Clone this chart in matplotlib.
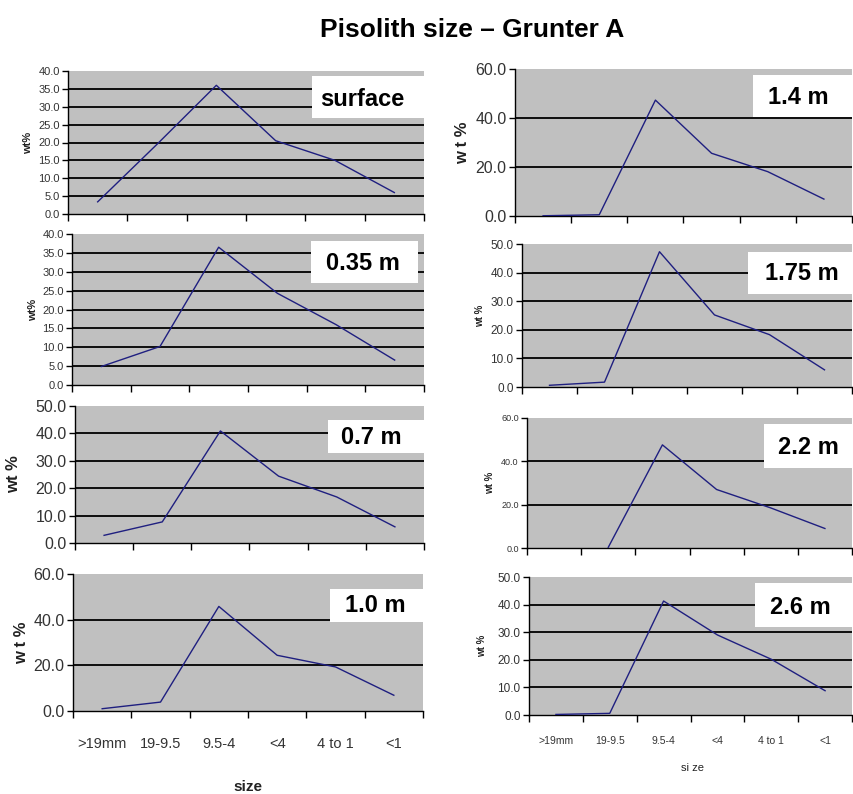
import numpy as np
import matplotlib
matplotlib.use("Agg")
import matplotlib.pyplot as plt
from matplotlib import font_manager
from matplotlib.patches import Rectangle

# ── dados (wt % por classe de tamanho) ────────────────────────────────────────
CATS = [">19mm", "19-9.5", "9.5-4", "<4", "4 to 1", "<1"]
CATS_DIR = [">19mm", "19-9.5", "9.5-4", "<4", "4 to 1", "<1"]
DEPTHS = ["surface", "0.35 m", "0.7 m", "1.0 m", "1.4 m", "1.75 m", "2.2 m", "2.6 m"]

SURFACE = [3.4, 19.5, 36.0, 20.5, 15.0, 6.0]
D035 = [4.9, 10.2, 36.5, 24.3, 16.0, 6.6]
D07 = [2.8, 7.7, 40.9, 24.4, 16.8, 5.9]
D10 = [1.0, 3.9, 45.8, 24.4, 19.3, 6.9]
D14 = [0.1, 0.5, 47.3, 25.6, 18.1, 6.9]
D175 = [0.6, 1.7, 47.3, 25.2, 18.3, 6.0]
D22 = [np.nan, 0.3, 47.6, 27.0, 18.5, 9.0]
D26 = [0.2, 0.6, 41.3, 29.0, 20.2, 8.8]

YMAX = [40, 40, 50, 60, 60, 50, 60, 50]
YSTEP = [5, 5, 10, 20, 20, 10, 20, 10]

# ── estilo ────────────────────────────────────────────────────────────────────
W, H = 854, 794
_nomes = {f.name for f in font_manager.fontManager.ttflist}
NARROW = "Liberation Sans Narrow" if "Liberation Sans Narrow" in _nomes else "Liberation Sans"
FONT = [NARROW, "Liberation Sans", "DejaVu Sans"]
BOLD = ["Liberation Sans", "DejaVu Sans"]
plt.rcParams["font.family"] = FONT

COR_FUNDO = "#c0c0c0"
COR_LINHA = "#1f1f80"
COR_TICK = "#333333"

# posição de cada painel em pixels: (esq, topo, dir, base)
PAINEIS = [
    (68, 71, 424, 214), (72, 234, 424, 385), (75, 406, 424, 543), (73, 574, 423, 711),
    (515, 69, 852, 216), (522, 244, 852, 387), (527, 418, 852, 548), (529, 577, 852, 715),
]
# caixa branca do rótulo: (esq, topo, dir, base) e centro do texto
CAIXAS = [
    (312, 76, 424, 118), (311, 241, 418, 283), (328, 420, 424, 453), (330, 589, 423, 622),
    (753, 75, 852, 117), (748, 252, 852, 294), (764, 424, 852, 468), (755, 583, 852, 627),
]
CENTROS = [(362, 100), (363, 263), (371, 438), (375, 606),
           (798, 97), (802, 274), (808, 447), (800, 607)]
YTICK_FS = [8, 8, 11.5, 11.5, 11.5, 8.5, 6.5, 8.5]
YLABELS = ["wt%", "wt%", "wt %", "w t %", "w t %", "wt %", "wt %", "wt %"]
YLABEL_X = [28, 33, 14, 22, 463, 480, 490, 482]
YLABEL_FS = [8, 8, 12, 12, 12, 7, 7, 7]


def _ax_px(fig, l, t, r, b):
    return fig.add_axes([l / W, 1 - b / H, (r - l) / W, (b - t) / H])


def _painel(fig, i, valores):
    l, t, r, b = PAINEIS[i]
    ax = _ax_px(fig, l, t, r, b)
    ax.set_facecolor(COR_FUNDO)
    x = np.arange(1, len(valores) + 1)
    ax.plot(x, valores, color=COR_LINHA, lw=1.0, zorder=3)
    ax.set_xlim(0.5, len(valores) + 0.5)
    ax.set_ylim(0, YMAX[i])
    yt = np.arange(0, YMAX[i] + 0.1, YSTEP[i])
    ax.set_yticks(yt)
    ax.set_yticklabels([f"{v:.1f}" for v in yt], fontsize=YTICK_FS[i], color=COR_TICK)
    for v in yt[1:-1]:
        ax.axhline(v, color="black", lw=1.3, zorder=1)
    ax.set_xticks(np.arange(0.5, len(valores) + 1, 1.0))
    ax.set_xticklabels([])
    ax.tick_params(axis="x", direction="out", length=5, width=1, color="black")
    ax.tick_params(axis="y", direction="out", length=4, width=1, color="black", pad=2)
    for s in ("top", "right"):
        ax.spines[s].set_visible(False)
    for s in ("left", "bottom"):
        ax.spines[s].set_color("black")
        ax.spines[s].set_linewidth(1.0)

    # caixa branca com a profundidade
    cl, ct, cr, cb = CAIXAS[i]
    fig.patches.append(Rectangle((cl / W, 1 - cb / H), (cr - cl) / W, (cb - ct) / H,
                                 transform=fig.transFigure, facecolor="white",
                                 edgecolor="none", zorder=5))
    cx, cy = CENTROS[i]
    fig.text(cx / W, 1 - cy / H, DEPTHS[i], ha="center", va="center",
             fontsize=17, fontweight="bold", family=BOLD, zorder=6)

    # rótulo do eixo y
    yc = (t + b) / 2
    fig.text(YLABEL_X[i] / W, 1 - yc / H, YLABELS[i], rotation=90, ha="center",
             va="center", fontsize=YLABEL_FS[i], fontweight="bold", color="#222222")
    return ax


def main():
    fig = plt.figure(figsize=(W / 100, H / 100), dpi=100)
    series = [SURFACE, D035, D07, D10, D14, D175, D22, D26]
    axes = [_painel(fig, i, s) for i, s in enumerate(series)]

    # rótulos do eixo x só nos painéis de baixo
    for ax, cats, fs, pad in ((axes[3], CATS, 10.5, 19), (axes[7], CATS_DIR, 7.5, 15)):
        ax.set_xticks(np.arange(1, 7), minor=True)
        ax.set_xticklabels(cats, minor=True, fontsize=fs, color=COR_TICK)
        ax.tick_params(axis="x", which="minor", length=0, pad=pad)
    fig.text(248 / W, 1 - 787 / H, "size", ha="center", va="center",
             fontsize=11, fontweight="bold", color="#222222")
    fig.text(693 / W, 1 - 768 / H, "si ze", ha="center", va="center",
             fontsize=8, color="#222222")

    fig.text(472 / W, 1 - 30 / H, "Pisolith size \u2013 Grunter A", ha="center",
             va="center", fontsize=19, fontweight="bold", family=BOLD)

    fig.savefig("out.png", dpi=100)
    plt.close(fig)


if __name__ == "__main__":
    main()
